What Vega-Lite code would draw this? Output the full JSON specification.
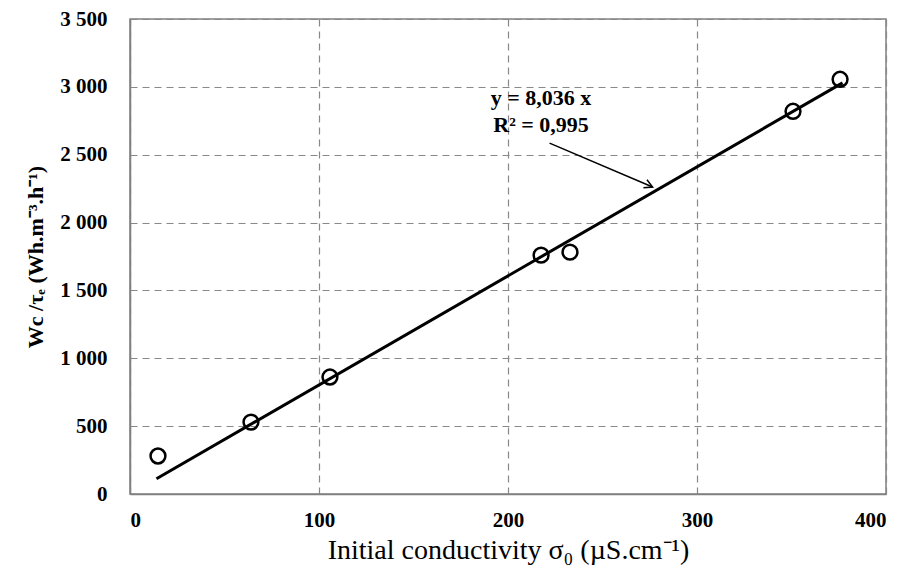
{
  "$schema": "https://vega.github.io/schema/vega-lite/v6.json",
  "width": 756,
  "height": 475,
  "autosize": {"type": "none"},
  "padding": {"left": 130, "top": 19, "right": 22, "bottom": 80},
  "background": "white",
  "config": {
    "view": {"stroke": "#808080", "strokeWidth": 1.5},
    "font": "Liberation Serif"
  },
  "datasets": {
    "pts": [
      {"x": 14.8, "y": 280},
      {"x": 64, "y": 530},
      {"x": 105.8, "y": 862},
      {"x": 217.5, "y": 1760},
      {"x": 232.8, "y": 1782},
      {"x": 350.8, "y": 2820},
      {"x": 375.7, "y": 3056}
    ],
    "fit": [
      {"x": 14, "y": 112.5},
      {"x": 377, "y": 3029.6}
    ],
    "arrow": [
      {"x": 222, "y": 2585, "x2": 276.5, "y2": 2262}
    ],
    "labels": [
      {"x": 217.5, "y": 2915, "t": "y = 8,036 x"},
      {"x": 217.5, "y": 2722, "t": "R² = 0,995"}
    ]
  },
  "layer": [
    {
      "data": {"name": "fit"},
      "mark": {"type": "line", "color": "black", "strokeWidth": 3},
      "encoding": {
        "x": {
          "field": "x", "type": "quantitative",
          "scale": {"domain": [0, 400], "nice": false},
          "axis": {
            "values": [0, 100, 200, 300, 400],
            "title": "Initial conductivity σ₀ (µS.cm⁻¹)",
            "titleFont": "Liberation Serif", "titleFontSize": 28, "titleFontWeight": "normal", "titleColor": "black",
            "titlePadding": 6,
            "labelFont": "Liberation Serif", "labelFontSize": 21, "labelFontWeight": "bold", "labelColor": "black",
            "labelPadding": 15,
            "ticks": false,
            "domainColor": "#808080", "domainWidth": 1.5,
            "grid": true, "gridColor": "#888888", "gridDash": [7, 5], "gridWidth": 1.2
          }
        },
        "y": {
          "field": "y", "type": "quantitative",
          "scale": {"domain": [0, 3500], "nice": false},
          "axis": {
            "values": [0, 500, 1000, 1500, 2000, 2500, 3000, 3500],
            "labelExpr": "replace(format(datum.value, 'd'), /(\\d)(\\d{3})$/, '$1 $2')",
            "title": "Wc /τₑ (Wh.m⁻³.h⁻¹)",
            "titleFont": "Liberation Serif", "titleFontSize": 22, "titleFontWeight": "bold", "titleColor": "black",
            "titlePadding": 12,
            "labelFont": "Liberation Serif", "labelFontSize": 21, "labelFontWeight": "bold", "labelColor": "black",
            "labelPadding": 23,
            "ticks": false,
            "domainColor": "#808080", "domainWidth": 1.5,
            "grid": true, "gridColor": "#888888", "gridDash": [7, 5], "gridWidth": 1.2
          }
        }
      }
    },
    {
      "data": {"name": "pts"},
      "mark": {"type": "point", "shape": "circle", "filled": false, "color": "black", "strokeWidth": 2.5, "size": 220, "opacity": 1},
      "encoding": {
        "x": {"field": "x", "type": "quantitative"},
        "y": {"field": "y", "type": "quantitative"}
      }
    },
    {
      "data": {"name": "arrow"},
      "mark": {"type": "rule", "color": "black", "strokeWidth": 1.5},
      "encoding": {
        "x": {"field": "x", "type": "quantitative"},
        "y": {"field": "y", "type": "quantitative"},
        "x2": {"field": "x2"},
        "y2": {"field": "y2"}
      }
    },
    {
      "data": {"name": "arrow"},
      "mark": {"type": "point", "shape": "M-1,-0.55L0,0L-1,0.55", "filled": false, "color": "black", "strokeWidth": 1.5, "size": 260, "angle": 23.5, "opacity": 1},
      "encoding": {
        "x": {"field": "x2", "type": "quantitative"},
        "y": {"field": "y2", "type": "quantitative"}
      }
    },
    {
      "data": {"name": "labels"},
      "mark": {"type": "text", "font": "Liberation Serif", "fontSize": 22, "fontWeight": "bold", "color": "black", "align": "center", "baseline": "middle"},
      "encoding": {
        "x": {"field": "x", "type": "quantitative"},
        "y": {"field": "y", "type": "quantitative"},
        "text": {"field": "t"}
      }
    }
  ]
}
